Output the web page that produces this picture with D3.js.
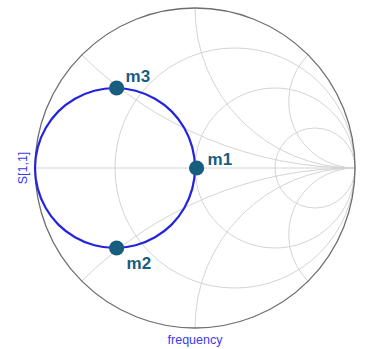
<!DOCTYPE html>
<html>
<head>
<meta charset="utf-8">
<script src="https://cdn.jsdelivr.net/npm/d3@7"></script>
<style>
  html, body { margin: 0; padding: 0; background: #ffffff; }
  svg { display: block; font-family: "Liberation Sans", Arial, sans-serif; }
</style>
</head>
<body>
<svg id="chart" width="365" height="349"></svg>
<script>
// ---- data (reflection coefficient S[1,1]) ----
const s11Re = [0.000, -0.017, -0.067, -0.146, -0.250, -0.371, -0.500, -0.629, -0.750, -0.854, -0.933, -0.983,
               -1.000, -0.983, -0.933, -0.854, -0.750, -0.629, -0.500, -0.371, -0.250, -0.146, -0.067, -0.017];
const s11Im = [0.000, 0.129, 0.250, 0.354, 0.433, 0.483, 0.500, 0.483, 0.433, 0.354, 0.250, 0.129,
               0.000, -0.129, -0.250, -0.354, -0.433, -0.483, -0.500, -0.483, -0.433, -0.354, -0.250, -0.129];

const markerNames = ["m1", "m2", "m3"];
const markerRe = [0.01, -0.49, -0.49];
const markerIm = [0.00, -0.50, 0.50];

// Smith chart grid values (normalised resistance circles / reactance arcs)
const resistanceGrid = [0.333, 1, 3];
const reactanceGrid = [0.414, 1, 2.414];

const yAxisLabel = "S[1,1]";
const xAxisLabel = "frequency";

// ---- layout ----
const cx = 195, cy = 168, R = 160;
const svg = d3.select("#chart");
const x = d3.scaleLinear().domain([-1, 1]).range([cx - R, cx + R]);
const y = d3.scaleLinear().domain([-1, 1]).range([cy + R, cy - R]);
const k = x(1) - x(0); // pixels per unit

const gridColor = "#d4d4d4";
const grid = svg.append("g").attr("fill", "none").attr("stroke", gridColor).attr("stroke-width", 1);

// horizontal real axis
grid.append("line")
  .attr("x1", x(-1)).attr("y1", y(0)).attr("x2", x(1)).attr("y2", y(0));

// constant resistance circles
grid.selectAll("circle.r").data(resistanceGrid).join("circle")
  .attr("class", "r")
  .attr("cx", r => x(r / (1 + r)))
  .attr("cy", y(0))
  .attr("r", r => k / (1 + r));

// constant reactance arcs (both signs)
const arcs = [];
reactanceGrid.forEach(v => { arcs.push(v); arcs.push(-v); });
grid.selectAll("path.x").data(arcs).join("path")
  .attr("class", "x")
  .attr("d", v => {
    const px = (v * v - 1) / (v * v + 1);
    const py = 2 * v / (v * v + 1);
    const rr = Math.abs(k / v);
    const sweep = v > 0 ? 1 : 0;
    return `M${x(1)},${y(0)} A${rr},${rr} 0 0 ${sweep} ${x(px)},${y(py)}`;
  });

// outer |Γ|=1 circle
svg.append("circle")
  .attr("cx", x(0)).attr("cy", y(0)).attr("r", k)
  .attr("fill", "none").attr("stroke", "#6e6e6e").attr("stroke-width", 1.3);

// trace
const pts = s11Re.map((re, i) => [re, s11Im[i]]);
const line = d3.line().x(d => x(d[0])).y(d => y(d[1])).curve(d3.curveCatmullRomClosed);
svg.append("path")
  .attr("d", line(pts))
  .attr("fill", "none")
  .attr("stroke", "#2424dc")
  .attr("stroke-width", 2.2);

// markers
const markerColor = "#175d7f";
const labelOffsets = { m1: [11, -3], m2: [10, 21], m3: [9, -6] };
const mk = svg.append("g");
markerNames.forEach((name, i) => {
  const mx = x(markerRe[i]), my = y(markerIm[i]);
  mk.append("circle").attr("cx", mx).attr("cy", my).attr("r", 7.6).attr("fill", markerColor);
  mk.append("text")
    .attr("x", mx + labelOffsets[name][0])
    .attr("y", my + labelOffsets[name][1])
    .attr("fill", markerColor)
    .attr("font-size", 17)
    .attr("font-weight", "bold")
    .text(name);
});

// axis labels
svg.append("text")
  .attr("transform", `translate(26.5,${cy}) rotate(-90)`)
  .attr("text-anchor", "middle")
  .attr("font-size", 12.5)
  .attr("fill", "#3a3aee")
  .text(yAxisLabel);

svg.append("text")
  .attr("x", cx).attr("y", 344)
  .attr("text-anchor", "middle")
  .attr("font-size", 12.5)
  .attr("fill", "#3a3aee")
  .text(xAxisLabel);
</script>
</body>
</html>
